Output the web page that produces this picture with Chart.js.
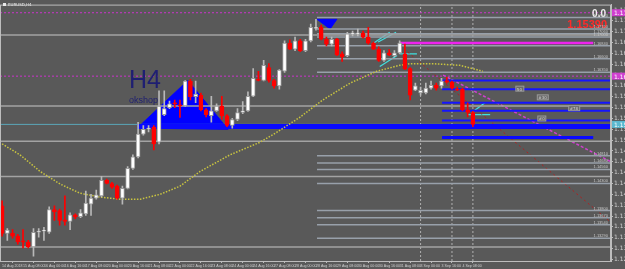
<!DOCTYPE html>
<html>
<head>
<meta charset="utf-8">
<script src="https://cdn.jsdelivr.net/npm/chart.js@4/dist/chart.umd.min.js"></script>
<style>
  html, body { margin: 0; padding: 0; background: #595959; overflow: hidden; width: 625px; height: 269px; }
  #wrap { position: absolute; left: 0; top: 0; width: 660px; height: 269px; }
</style>
</head>
<body>
<div id="wrap"><canvas id="chart"></canvas></div>
<script>
// EURUSD H4 candles, bar 0 = 14 Aug 2018 16:00
const opens = [1.1389,1.1338,1.1338,1.1333,1.1324,1.1322,1.1313,1.1340,1.1342,1.1340,
  1.1382,1.1380,1.1363,1.1360,1.1372,1.1369,1.1374,1.1392,1.1403,1.1407,
  1.1436,1.1430,1.1425,1.1403,1.1421,1.1458,1.1479,1.1521,1.1530,1.1534,
  1.1506,1.1557,1.1570,1.1579,1.1575,1.1573,1.1619,1.1590,1.1593,1.1566,
  1.1555,1.1564,1.1573,1.1555,1.1537,1.1548,1.1561,1.1564,1.1591,1.1622,
  1.1620,1.1644,1.1620,1.1610,1.1637,1.1689,1.1678,1.1693,1.1675,1.1693,
  1.1716,1.1718,1.1696,1.1687,1.1696,1.1669,1.1666,1.1706,1.1706,1.1707,
  1.1700,1.1689,1.1678,1.1657,1.1671,1.1666,1.1671,1.1669,1.1642,1.1602,
  1.1597,1.1597,1.1606,1.1611,1.1610,1.1620,1.1617,1.1604,1.1604,1.1566,1.1561];
const highs = [1.1398,1.1347,1.1345,1.1336,1.1345,1.1325,1.1347,1.1347,1.1349,1.1387,
  1.1389,1.1383,1.1407,1.1376,1.1374,1.1382,1.1416,1.1410,1.1418,1.1443,
  1.1438,1.1432,1.1427,1.1425,1.1461,1.1483,1.1543,1.1537,1.1537,1.1537,
  1.1601,1.1601,1.1582,1.1584,1.1584,1.1620,1.1622,1.1619,1.1597,1.1568,
  1.1591,1.1577,1.1591,1.1557,1.1550,1.1568,1.1581,1.1599,1.1642,1.1637,
  1.1657,1.1651,1.1622,1.1640,1.1693,1.1695,1.1700,1.1696,1.1696,1.1724,
  1.1733,1.1722,1.1700,1.1700,1.1698,1.1673,1.1709,1.1711,1.1715,1.1711,
  1.1718,1.1691,1.1682,1.1675,1.1677,1.1675,1.1693,1.1687,1.1644,1.1615,
  1.1608,1.1615,1.1619,1.1615,1.1624,1.1626,1.1619,1.1608,1.1606,1.1579,1.1563];
const lows = [1.1333,1.1325,1.1329,1.1318,1.1311,1.1311,1.1296,1.1331,1.1325,1.1338,
  1.1362,1.1353,1.1353,1.1345,1.1365,1.1367,1.1371,1.1371,1.1401,1.1405,
  1.1429,1.1421,1.1401,1.1392,1.1420,1.1456,1.1477,1.1519,1.1525,1.1492,
  1.1503,1.1555,1.1568,1.1570,1.1552,1.1572,1.1584,1.1579,1.1564,1.1553,
  1.1543,1.1563,1.1548,1.1535,1.1532,1.1546,1.1559,1.1563,1.1590,1.1619,
  1.1619,1.1617,1.1606,1.1604,1.1635,1.1677,1.1675,1.1673,1.1673,1.1691,
  1.1713,1.1695,1.1684,1.1684,1.1666,1.1655,1.1664,1.1702,1.1702,1.1698,
  1.1687,1.1677,1.1655,1.1655,1.1666,1.1664,1.1669,1.1640,1.1584,1.1601,
  1.1593,1.1595,1.1604,1.1602,1.1606,1.1615,1.1604,1.1601,1.1564,1.1553,1.1535];
const closes = [1.1338,1.1344,1.1333,1.1322,1.1322,1.1313,1.1340,1.1342,1.1344,1.1382,
  1.1378,1.1362,1.1360,1.1372,1.1369,1.1376,1.1394,1.1403,1.1409,1.1436,
  1.1430,1.1423,1.1403,1.1421,1.1458,1.1479,1.1521,1.1530,1.1532,1.1503,
  1.1573,1.1568,1.1577,1.1577,1.1573,1.1619,1.1590,1.1595,1.1566,1.1557,
  1.1564,1.1573,1.1555,1.1537,1.1548,1.1561,1.1564,1.1591,1.1624,1.1620,
  1.1648,1.1620,1.1610,1.1639,1.1689,1.1678,1.1693,1.1675,1.1693,1.1718,
  1.1718,1.1696,1.1687,1.1696,1.1667,1.1664,1.1706,1.1707,1.1707,1.1700,
  1.1689,1.1678,1.1657,1.1671,1.1667,1.1671,1.1689,1.1642,1.1593,1.1610,
  1.1602,1.1606,1.1611,1.1606,1.1619,1.1617,1.1606,1.1602,1.1566,1.1561,1.1539];

// time axis labels, one every 4 bars
const timeLabelBars = [0,4,8,12,16,20,24,28,32,36,40,44,48,52,56,60,64,68,72,76,80,84,88];
const timeLabels = ["14 Aug 2018","15 Aug 08:00","16 Aug 00:00","16 Aug 16:00","17 Aug 08:00",
  "20 Aug 00:00","20 Aug 16:00","21 Aug 08:00","22 Aug 00:00","22 Aug 16:00","23 Aug 08:00",
  "24 Aug 00:00","24 Aug 16:00","27 Aug 08:00","28 Aug 00:00","28 Aug 16:00","29 Aug 08:00",
  "30 Aug 00:00","30 Aug 16:00","31 Aug 08:00","3 Sep 00:00","3 Sep 16:00","4 Sep 08:00"];
const priceTicks = [1.1750,1.1730,1.1710,1.1690,1.1670,1.1650,1.1630,1.1610,1.1590,1.1570,1.1550,
  1.1530,1.1510,1.1490,1.1470,1.1450,1.1430,1.1410,1.1390,1.1370,1.1350,1.1330,1.1310,1.1290];

// moving average, read as (bar, price) points
const maBars   = [0, 3.4, 7.3, 11.1, 14.9, 18.7, 22.5, 26.4, 30.2, 34.0, 37.8, 43.6, 49.3, 52.6, 56.9, 61.3, 66.5, 71.6, 76.0, 77.9, 82.3, 87.5, 91.9];
const maValues = [1.1503,1.1483,1.1452,1.1429,1.1412,1.1405,1.1401,1.1401,1.1410,1.1425,1.1452,1.1483,1.1506,1.1525,1.1552,1.1584,1.1615,1.1637,1.1648,1.1651,1.1651,1.1648,1.1637];

// horizontal levels
const fullLevels = [1.1704, 1.1573, 1.1508, 1.1443, 1.1313];
const rightLevels = [1.1736,1.1715,1.1706,1.1700,1.1684,1.1660,1.1635,1.1481,1.1468,1.1456,1.1430,1.1380,1.1367,1.1354,1.1329];
const blueLevels = [1.1620, 1.1604, 1.1579, 1.1564, 1.1546];
const magentaDotLevels = [1.1745, 1.1628];
const magentaLevel = 1.1689;
const bandLevels = [1.1535, 1.1515];
const bidPrice = closes[closes.length - 1];
const sessionBars = [80, 86, 90];
const tagTexts = ["50", "#30", "#78", "#0"];
const tagBars = [98.4, 102.5, 108.5, 102.6];
const tagPrices = [1.1604, 1.1588, 1.1568, 1.1549];

// pattern triangles (bar, price)
const bigTriBars = [25.8, 35.5, 43.2, 25.8];
const bigTriPrices = [1.1532, 1.1620, 1.1530, 1.1532];
const topTriBars = [60.2, 64.0, 62.7, 60.2];
const topTriPrices = [1.1733, 1.1733, 1.1715, 1.1733];

// trend lines (bar, price) pairs
const redTrend = [[76.1, 1.1684], [116.4, 1.1358]];
const magentaTrend = [[84.3, 1.1630], [116.4, 1.1470]];
const cyanLines = [
  [[70.7, 1.1687], [74.1, 1.1709]],
  [[71.9, 1.1691], [75.3, 1.1709]],
  [[72.2, 1.1646], [75.5, 1.1666]],
  [[76.1, 1.1669], [79.3, 1.1669]],
  [[89.8, 1.1561], [92.3, 1.1579]],
  [[89.0, 1.1557], [93.3, 1.1557]]
];

const X_MIN = -0.4, X_MAX = 116.4, RIGHT_START = 60.2, BLUE_START = 84.1;

const idx = opens.map((_, i) => i);
const up = i => closes[i] >= opens[i];

function seg(points, style) {
  return Object.assign({
    type: 'line',
    data: points.map(p => ({ x: p[0], y: p[1] })),
    pointRadius: 0, fill: false, borderWidth: 1, order: 5, tension: 0
  }, style);
}

const datasets = [
  {
    type: 'bar', label: 'body',
    data: idx.map(i => ({ x: i, y: [opens[i], closes[i]] })),
    backgroundColor: idx.map(i => up(i) ? '#ffffff' : '#ff0000'),
    borderColor: idx.map(i => up(i) ? '#9c9c9c' : '#ff0000'),
    borderWidth: 1, borderSkipped: false, barThickness: 4, minBarLength: 1,
    grouped: false, order: 0
  },
  {
    type: 'bar', label: 'wick',
    data: idx.map(i => ({ x: i, y: [lows[i], highs[i]] })),
    backgroundColor: idx.map(i => up(i) ? '#b8b8b8' : '#ff0000'),
    barThickness: 1, grouped: false, order: 1
  },
  {
    type: 'line', label: 'ma',
    data: maBars.map((b, i) => ({ x: b, y: maValues[i] })),
    borderColor: '#c9c440', borderWidth: 1.5, borderDash: [1.5, 1.5],
    pointRadius: 0, fill: false, order: 3
  },
  seg(bigTriBars.map((b, i) => [b, bigTriPrices[i]]), { borderColor: '#0000ff', backgroundColor: '#0000ff', fill: 'shape', order: 20 }),
  seg(topTriBars.map((b, i) => [b, topTriPrices[i]]), { borderColor: '#0000ff', backgroundColor: '#0000ff', fill: 'shape', order: 20 })
];

fullLevels.forEach(p => datasets.push(seg([[X_MIN, p], [X_MAX, p]], { borderColor: '#a3a3a3', borderWidth: 1.5 })));
rightLevels.forEach(p => datasets.push(seg([[RIGHT_START, p], [X_MAX, p]], { borderColor: '#98a0aa', borderWidth: 1.5 })));
blueLevels.forEach(p => datasets.push(seg([[BLUE_START, p], [X_MAX, p]], { borderColor: '#1414ff', borderWidth: 2 })));
magentaDotLevels.forEach(p => datasets.push(seg([[X_MIN, p], [X_MAX, p]], { borderColor: '#cc33cc', borderDash: [2, 2] })));
datasets.push(seg([[76.0, magentaLevel], [113.0, magentaLevel]], { borderColor: '#ee22ee', borderWidth: 2.5 }));
datasets.push(seg([[25.8, bandLevels[0]], [X_MAX, bandLevels[0]]], { borderColor: '#0a0aff', borderWidth: 5, order: 4 }));
datasets.push(seg([[BLUE_START, bandLevels[1]], [113.0, bandLevels[1]]], { borderColor: '#0a0aff', borderWidth: 3, order: 4 }));
datasets.push(seg([[X_MIN, bidPrice], [X_MAX, bidPrice]], { borderColor: '#5aa6b8', borderWidth: 1 }));
sessionBars.forEach(b => datasets.push(seg([[b, 1.1287], [b, 1.1760]], { borderColor: '#b0b0b0', borderDash: [2, 2] })));
datasets.push(seg(redTrend, { borderColor: '#b02020', borderDash: [2, 3] }));
datasets.push(seg(magentaTrend, { borderColor: '#d040d0', borderDash: [3, 2], borderWidth: 1.5 }));
cyanLines.forEach(l => datasets.push(seg(l, { borderColor: '#40e0e0', borderWidth: 1.2 })));

const textPlugin = {
  id: 'texts',
  afterDatasetsDraw(chart) {
    const { ctx, chartArea: a, scales: { x, y } } = chart;
    ctx.save();
    ctx.strokeStyle = '#bdbdbd';
    ctx.lineWidth = 1;
    ctx.strokeRect(a.left + 0.5, a.top + 0.5, a.right - a.left - 1, a.bottom - a.top);
    ctx.fillStyle = '#e8e8e8';
    ctx.fillRect(3, 3, 3, 3);
    ctx.font = '4px "DejaVu Sans"';
    ctx.textBaseline = 'top';
    ctx.fillText('EURUSD,H4', 8, 3);
    ctx.textBaseline = 'alphabetic';
    ctx.fillStyle = '#1f1f72';
    ctx.font = '25px "Liberation Sans"';
    ctx.fillText('H4', 129, 88);
    ctx.font = '9px "Liberation Sans"';
    ctx.fillText('okshop', 129, 103);
    ctx.fillStyle = '#f0f0f0';
    ctx.font = 'bold 10px "Liberation Sans"';
    ctx.textAlign = 'right';
    ctx.fillText('0.0', 606, 17);
    ctx.fillStyle = '#ff2a2a';
    ctx.font = 'bold 11px "Liberation Sans Narrow", "Liberation Sans"';
    ctx.fillText(bidPrice.toFixed(5), 607, 28);
    ctx.fillStyle = '#c8c8c8';
    ctx.font = '4px "Liberation Sans Narrow", "Liberation Sans"';
    rightLevels.forEach(p => ctx.fillText(p.toFixed(4) + '0', 608, y.getPixelForValue(p) - 1));
    ctx.textAlign = 'left';
    ctx.font = '4px "DejaVu Sans"';
    tagTexts.forEach((t, i) => {
      const px = x.getPixelForValue(tagBars[i]), py = y.getPixelForValue(tagPrices[i]);
      ctx.fillStyle = '#6a6a6a';
      ctx.fillRect(px - 1, py - 3, t.length * 3 + 2, 5);
      ctx.strokeStyle = '#9a9a9a';
      ctx.strokeRect(px - 1, py - 3, t.length * 3 + 2, 5);
      ctx.fillStyle = '#d0d0d0';
      ctx.fillText(t, px, py + 1.5);
    });
    // price boxes on the axis for the bid line and magenta levels
    const boxes = [[bidPrice, '#5ab8d0'], [magentaDotLevels[0], '#d040d0'], [magentaDotLevels[1], '#d040d0']];
    ctx.font = '6px "DejaVu Sans"';
    boxes.forEach(([p, c]) => {
      const py = y.getPixelForValue(p);
      ctx.fillStyle = c;
      ctx.fillRect(a.right + 1, py - 3.5, 40, 7);
      ctx.fillStyle = '#ffffff';
      ctx.fillText(p.toFixed(4), a.right + 3, py + 2.5);
    });
    ctx.restore();
  }
};

new Chart(document.getElementById('chart'), {
  type: 'bar',
  data: { datasets },
  options: {
    responsive: true, maintainAspectRatio: false, animation: false,
    layout: { padding: 0 },
    plugins: { legend: { display: false }, tooltip: { enabled: false } },
    scales: {
      x: {
        type: 'linear', min: X_MIN, max: X_MAX, offset: false,
        afterBuildTicks: s => { s.ticks = timeLabelBars.map(v => ({ value: v })); },
        afterFit: s => { s.height = 8; },
        ticks: {
          callback: v => timeLabels[timeLabelBars.indexOf(v)],
          color: '#d0d0d0', font: { size: 3.6, family: '"Liberation Sans Narrow", "Liberation Sans"' },
          align: 'start', padding: 1, maxRotation: 0, autoSkip: false
        },
        grid: { drawOnChartArea: false, color: '#bdbdbd', tickLength: 2 },
        border: { color: '#bdbdbd' }
      },
      y: {
        position: 'right', min: 1.1287, max: 1.1760,
        afterBuildTicks: s => { s.ticks = priceTicks.map(v => ({ value: v })); },
        afterFit: s => { s.width = 49; },
        ticks: {
          callback: v => v.toFixed(4), color: '#d0d0d0',
          font: { size: 6, family: 'DejaVu Sans' }, padding: 1, autoSkip: false
        },
        grid: { drawOnChartArea: false, color: '#bdbdbd', tickLength: 2 },
        border: { color: '#bdbdbd' }
      }
    }
  },
  plugins: [textPlugin]
});
</script>
</body>
</html>
